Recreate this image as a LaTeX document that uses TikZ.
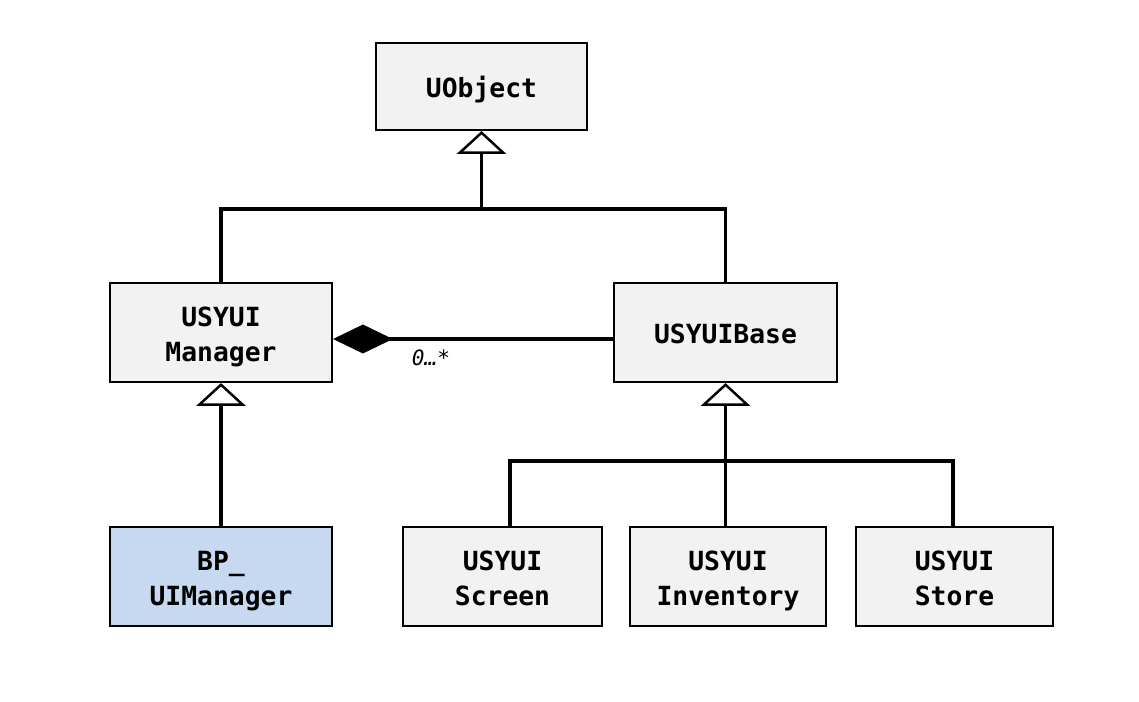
\documentclass[tikz,border=0pt]{standalone}
\usepackage{fontspec}
\setmonofont{DejaVu Sans Mono}
\usetikzlibrary{arrows.meta}
\definecolor{boxfill}{HTML}{F2F2F2}
\definecolor{bluefill}{HTML}{C6D9F1}
\newcommand\toplift{\rule{0pt}{16.6pt}}
\newcommand\botdrop{\rule[-3.6pt]{0pt}{3.6pt}}
\newcommand\oneline{\rule{0pt}{16.5pt}}
\tikzset{
  cls/.style={draw=black, line width=1.2pt, fill=boxfill, align=center,
    font=\ttfamily\bfseries\fontsize{15}{20}\selectfont, inner sep=0pt,
    minimum height=1.98cm},
  conn/.style={line width=1.8pt, draw=black},
  gen/.style={conn, -{Triangle[open, length=13pt, width=28pt, line width=1.4pt]}},
  comp/.style={conn, {Diamond[length=34pt, width=16.5pt]}-},
  mult/.style={font=\ttfamily\itshape\fontsize{12}{14}\selectfont, inner sep=0pt}
}
\begin{document}
\begin{tikzpicture}[x=0.02cm, y=-0.02cm]
\useasboundingbox (0,0) rectangle (1139,701);
\node[cls, minimum width=4.22cm, minimum height=1.74cm] (uobject) at (481.5,86.5) {\oneline UObject\botdrop};
\node[cls, minimum width=4.44cm] (manager) at (221,332.5) {\toplift USYUI\\Manager\botdrop};
\node[cls, minimum width=4.46cm] (base) at (725.5,332.5) {\oneline USYUIBase\botdrop};
\node[cls, minimum width=4.44cm, fill=bluefill] (bp) at (221,576.5) {\toplift BP\_\\UIManager\botdrop};
\node[cls, minimum width=3.98cm] (screen) at (502.5,576.5) {\toplift USYUI\\Screen\botdrop};
\node[cls, minimum width=3.92cm] (inventory) at (728,576.5) {\toplift USYUI\\Inventory\botdrop};
\node[cls, minimum width=3.94cm] (store) at (954.5,576.5) {\toplift USYUI\\Store\botdrop};

\coordinate (j1) at (481.5,209);
\coordinate (j2) at (725.5,461);
\coordinate (sx) at (510,0);
\coordinate (tx) at (953,0);

\draw[gen] (j1) -- (uobject.south);
\draw[conn] (manager.north) -- (manager.north |- j1) -- (base.north |- j1) -- (base.north);

\draw[gen] (bp.north) -- (manager.south);

\draw[gen] (j2) -- (base.south);
\draw[conn] (screen.north -| sx) -- (sx |- j2) -- (tx |- j2) -- (store.north -| tx);
\draw[conn] (inventory.north -| j2) -- (j2);

\draw[comp] ([yshift=-0.13cm]manager.east) -- ([yshift=-0.13cm]base.west);
\node[mult] (m) at (431,358) {0…*};
\end{tikzpicture}
\end{document}
